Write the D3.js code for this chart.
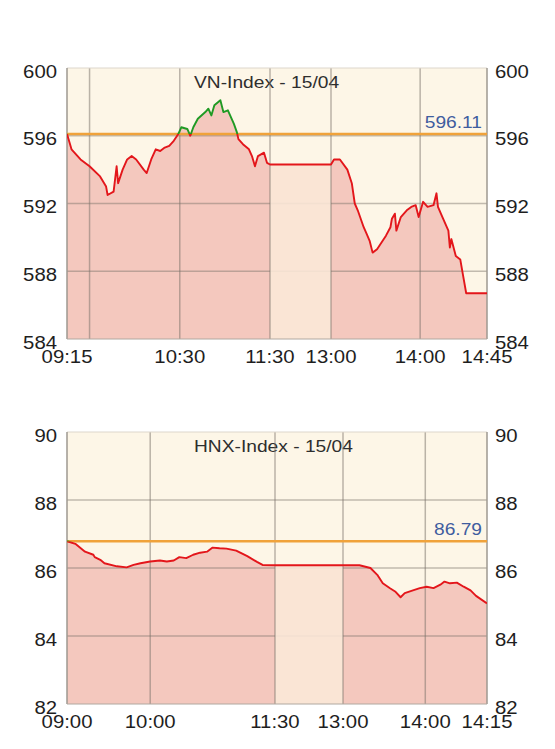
<!DOCTYPE html>
<html><head><meta charset="utf-8">
<script src="https://cdn.jsdelivr.net/npm/d3@7"></script>
<style>body{margin:0;background:#fff}svg{display:block}</style>
</head><body>
<svg id="c" width="555" height="749"></svg>
<script>
// ---------- DATA ----------
const vnTitle = "VN-Index - 15/04";
const vnRef = 596.11;
const vnTimes = ["09:15","09:18","09:24","09:30","09:37","09:41","09:42","09:46","09:48","09:49","09:52","09:55","09:58","10:01","10:06","10:08","10:11","10:14","10:17","10:20","10:23","10:26","10:29","10:31","10:35","10:37","10:39","10:42","10:47","10:49","10:51","10:53","10:57","10:59","11:02","11:06","11:08","11:09","11:12","11:16","11:18","11:20","11:22","11:26","11:28","11:30","13:00","13:02","13:06","13:11","13:14","13:16","13:18","13:22","13:24","13:26","13:28","13:31","13:34","13:37","13:40","13:41","13:43","13:44","13:47","13:51","13:54","13:57","13:59","14:02","14:05","14:09","14:11","14:12","14:15","14:19","14:20","14:21","14:24","14:27","14:29","14:31","14:45"];
const vnValues = [596.11,595.2,594.6,594.2,593.6,593.0,592.5,592.7,594.2,593.2,594.0,594.6,594.8,594.6,594.0,593.8,594.6,595.2,595.1,595.3,595.4,595.7,596.1,596.5,596.4,596.0,596.5,597.0,597.4,597.6,597.2,597.8,598.1,597.4,597.5,596.7,596.2,595.8,595.5,595.2,594.8,594.2,594.8,595.0,594.4,594.3,594.3,594.6,594.6,594.0,593.2,592.0,591.6,590.6,590.2,589.8,589.1,589.3,589.7,590.1,590.6,591.1,591.4,590.4,591.2,591.6,591.8,591.9,591.2,592.1,591.8,591.9,592.6,591.8,591.2,590.4,589.4,589.9,588.9,588.7,587.7,586.7,586.7];
const vnYTicks = [584,588,592,596,600];
const vnTickTimes  = ["09:15","10:30","11:30","13:00","14:00","14:45"];
const vnTickLabels = ["09:15","10:30","11:30","13:00","14:00","14:45"];
const vnGridTimes  = ["09:30","10:30","11:30","13:00","14:00"];
const vnBreaks = ["09:15","11:30","13:00","14:45"];

const hnxTitle = "HNX-Index - 15/04";
const hnxRef = 86.79;
const hnxTimes = ["09:00","09:06","09:13","09:19","09:20","09:24","09:27","09:36","09:43","09:48","09:53","10:00","10:07","10:12","10:17","10:21","10:26","10:31","10:36","10:41","10:45","10:50","10:55","11:02","11:10","11:17","11:21","11:30","13:00","13:12","13:20","13:25","13:29","13:34","13:38","13:42","13:45","13:51","13:56","14:01","14:06","14:11","14:14","14:18","14:23","14:28","14:33","14:37","14:45"];
const hnxValues = [86.79,86.71,86.48,86.39,86.32,86.24,86.14,86.05,86.02,86.09,86.14,86.19,86.22,86.19,86.22,86.32,86.29,86.39,86.45,86.48,86.60,86.58,86.57,86.51,86.35,86.18,86.09,86.08,86.08,86.08,86.0,85.80,85.55,85.41,85.31,85.14,85.26,85.34,85.41,85.45,85.41,85.51,85.60,85.55,85.57,85.45,85.34,85.18,84.96];
const hnxYTicks = [82,84,86,88,90];
const hnxTickTimes  = ["09:00","10:00","11:30","13:00","14:00","14:45"];
const hnxTickLabels = ["09:00","10:00","11:30","13:00","14:00","14:15"];
const hnxGridTimes  = ["10:00","11:30","13:00","14:00"];
const hnxBreaks = ["09:00","11:30","13:00","14:45"];

// ---------- DRAW ----------
const svg = d3.select("#c");
const parse = d3.timeParse("%H:%M");
const FONT = "'Liberation Sans', Arial, Helvetica, sans-serif";
const SX = 1.13;
let clipId = 0;

function txt(g, x, y, s, size, anchor, color){
  return g.append("text")
    .attr("transform", `translate(${x},${y}) scale(${SX},1)`)
    .attr("font-family", FONT).attr("font-size", size)
    .attr("text-anchor", anchor).attr("fill", color).text(s);
}

function chart(cfg){
  const {left,right,top,bottom,breaksPx} = cfg;
  const x = d3.scaleTime().domain(cfg.breaks.map(parse)).range(breaksPx);
  const y = d3.scaleLinear().domain([cfg.yTicks[0], cfg.yTicks[cfg.yTicks.length-1]]).range([bottom, top]);
  const data = cfg.times.map((t,i)=>({t:parse(t), v:cfg.values[i]}));
  const g = svg.append("g");

  g.append("rect").attr("x",left).attr("y",top).attr("width",right-left).attr("height",bottom-top).attr("fill","#fdf6e7");

  const area = d3.area().x(d=>x(d.t)).y0(bottom).y1(d=>y(d.v));
  const line = d3.line().x(d=>x(d.t)).y(d=>y(d.v));

  g.append("path").datum(data).attr("d",area).attr("fill","#f4c8be");

  txt(g, 194, top+20, cfg.title, 17, "start", "#2e2e2e");

  g.selectAll(".hg").data(cfg.yTicks.slice(1,-1)).join("line")
    .attr("x1",left).attr("x2",right).attr("y1",d=>y(d)).attr("y2",d=>y(d))
    .attr("stroke","rgba(120,112,104,0.45)").attr("stroke-width",1.5);

  const l0 = x(parse("11:30")), l1 = x(parse("13:00"));
  const cid = "clip"+(clipId++);
  g.append("clipPath").attr("id",cid).append("rect").attr("x",l0).attr("y",top).attr("width",l1-l0).attr("height",bottom-top);
  g.append("path").datum(data).attr("d",area).attr("fill","#fbe8d8").attr("opacity",0.88).attr("clip-path",`url(#${cid})`);

  g.selectAll(".vg").data(cfg.gridTimes.map(parse)).join("line")
    .attr("x1",d=>x(d)).attr("x2",d=>x(d)).attr("y1",top).attr("y2",bottom)
    .attr("stroke","rgba(120,112,104,0.5)").attr("stroke-width",1.5);

  g.append("line").attr("x1",left).attr("x2",right).attr("y1",top).attr("y2",top).attr("stroke","#ddd6cc").attr("stroke-width",1);
  [left,right].forEach(px=>g.append("line").attr("x1",px).attr("x2",px).attr("y1",top).attr("y2",bottom).attr("stroke","#9e9890").attr("stroke-width",1.5));
  g.append("line").attr("x1",left).attr("x2",right).attr("y1",bottom).attr("y2",bottom).attr("stroke","#b0a8a0").attr("stroke-width",1);

  const yr = y(cfg.ref);
  g.append("line").attr("x1",left).attr("x2",right).attr("y1",yr).attr("y2",yr).attr("stroke","#f0a23a").attr("stroke-width",2.5);
  txt(g, right-5, yr-6, cfg.ref.toFixed(2), 17, "end", "#3f5d9f");

  const cr = "clip"+(clipId++), cg = "clip"+(clipId++);
  g.append("clipPath").attr("id",cr).append("rect").attr("x",left).attr("y",yr).attr("width",right-left).attr("height",bottom-yr+2);
  g.append("clipPath").attr("id",cg).append("rect").attr("x",left).attr("y",top-5).attr("width",right-left).attr("height",yr-top+5);
  g.append("path").datum(data).attr("d",line).attr("fill","none").attr("stroke","#e3161b").attr("stroke-width",1.9).attr("stroke-linejoin","round").attr("clip-path",`url(#${cr})`);
  g.append("path").datum(data).attr("d",line).attr("fill","none").attr("stroke","#1f9a24").attr("stroke-width",1.9).attr("stroke-linejoin","round").attr("clip-path",`url(#${cg})`);

  cfg.yTicks.forEach(v=>{
    txt(g, left-10, y(v)+9.5, String(v), 18, "end", "#1e1e1e");
    txt(g, right+8, y(v)+9.5, String(v), 18, "start", "#1e1e1e");
  });
  cfg.tickTimes.forEach((t,i)=>{
    txt(g, x(parse(t)), bottom+24, cfg.tickLabels[i], 18, "middle", "#1e1e1e");
  });
}

chart({left:67,right:487,top:68,bottom:339,breaks:vnBreaks,breaksPx:[67,270,331,487],
  times:vnTimes,values:vnValues,yTicks:vnYTicks,tickTimes:vnTickTimes,tickLabels:vnTickLabels,
  gridTimes:vnGridTimes,ref:vnRef,title:vnTitle});
chart({left:67,right:487,top:432,bottom:704,breaks:hnxBreaks,breaksPx:[67,275,343,487],
  times:hnxTimes,values:hnxValues,yTicks:hnxYTicks,tickTimes:hnxTickTimes,tickLabels:hnxTickLabels,
  gridTimes:hnxGridTimes,ref:hnxRef,title:hnxTitle});
</script>
</body></html>
